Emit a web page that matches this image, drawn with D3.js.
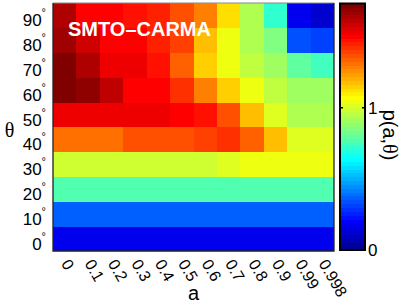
<!DOCTYPE html>
<html>
<head>
<meta charset="utf-8">
<script src="https://cdnjs.cloudflare.com/ajax/libs/d3/7.8.5/d3.min.js"></script>
<style>
body{margin:0;background:#fff;}
text{font-family:"Liberation Sans",Arial,sans-serif;fill:#000;}
</style>
</head>
<body>
<script>
// spin a along x, viewing angle theta along y
var aLabels = ['0','0.1','0.2','0.3','0.4','0.5','0.6','0.7','0.8','0.9','0.99','0.998'];
var thetaLabels = [0,10,20,30,40,50,60,70,80,90];

// one row per theta
var p0  = [0.18,0.18,0.18,0.18,0.18,0.18,0.18,0.18,0.18,0.18,0.18,0.18];
var p10 = [0.36,0.36,0.36,0.36,0.36,0.36,0.36,0.36,0.36,0.36,0.36,0.36];
var p20 = [0.78,0.78,0.78,0.78,0.78,0.78,0.78,0.78,0.78,0.78,0.78,0.78];
var p30 = [0.99,0.99,0.99,0.99,0.99,0.99,1.00,1.01,1.03,1.03,1.03,1.03];
var p40 = [1.31,1.31,1.31,1.37,1.37,1.37,1.40,1.41,1.35,1.19,1.005,1.005];
var p50 = [1.535,1.535,1.535,1.535,1.535,1.51,1.485,1.38,1.18,1.014,0.94,0.94];
var p60 = [1.72,1.70,1.61,1.51,1.497,1.412,1.276,1.157,1.04,0.954,0.91,0.91];
var p70 = [1.73,1.64,1.52,1.52,1.48,1.344,1.157,1.03,0.954,0.92,0.80,0.74];
var p80 = [1.675,1.575,1.51,1.49,1.46,1.395,1.17,1.03,0.945,0.865,0.35,0.318];
var p90 = [1.63,1.50,1.50,1.48,1.446,1.38,1.276,1.124,0.945,0.715,0.173,0.13];
var pRows = [p0,p10,p20,p30,p40,p50,p60,p70,p80,p90];

var cbarTicks = [0,1];
var pMax = 1.732;

var plot = {
  left:53, right:334, top:3, bottom:251
};

// matlab jet(64)
function jetEntry(k){
  var f = function(j){
    if (j<1 || j>47) return 0;
    if (j<=16) return j/16;
    if (j<=31) return 1;
    return (48-j)/16;
  };
  return d3.rgb(255*f(k-24),255*f(k-8),255*f(k+8)).toString();
}

var color = d3.scaleQuantize().domain([0,pMax]).range(d3.range(1,65).map(jetEntry));

var svg = d3.select('body').append('svg').attr('width',407).attr('height',306);

var x = d3.scaleBand().domain(aLabels).range([plot.left,plot.right]);
var y = d3.scaleBand().domain(thetaLabels).range([plot.bottom,plot.top]);

var cells = [];
thetaLabels.forEach(function(t,i){
  aLabels.forEach(function(a,j){
    cells.push({theta:t,a:a,p:pRows[i][j]});
  });
});

svg.append('g').attr('class','cells').selectAll('rect').data(cells)
  .enter().append('rect')
  .attr('x',function(d){return x(d.a)})
  .attr('y',function(d){return y(d.theta)})
  .attr('width',x.bandwidth()+0.3)
  .attr('height',y.bandwidth()+0.3)
  .attr('fill',function(d){return color(d.p)})
  .attr('shape-rendering','crispEdges');

// x axis, labels turned down
var xAxis = svg.append('g').attr('transform','translate(0,'+plot.bottom+')')
  .call(d3.axisBottom(x).tickSize(0));
xAxis.select('.domain').remove();
xAxis.selectAll('text')
  .attr('x',0).attr('y',0).attr('dy',null)
  .attr('text-anchor','start')
  .attr('font-size',16)
  .attr('font-family','"Liberation Sans",Arial,sans-serif')
  .attr('transform','translate(-4,12.5) rotate(60)');

// y axis with degree marks
var yAxis = svg.append('g').attr('transform','translate('+plot.left+',0)')
  .call(d3.axisLeft(y).tickSize(0).tickFormat(''));
yAxis.select('.domain').remove();
yAxis.selectAll('.tick text').each(function(d){
  var t = d3.select(this)
    .attr('x',-7).attr('y',11).attr('dy',null)
    .attr('text-anchor','end')
    .attr('font-size',17)
    .attr('font-family','"Liberation Sans",Arial,sans-serif');
  t.append('tspan').text(d);
  t.append('tspan').text('\u00b0').attr('font-size',11).attr('dy',-10);
});

// axes box
var box = svg.append('g').attr('fill','none');
box.append('line').attr('x1',plot.left).attr('x2',plot.right).attr('y1',plot.top).attr('y2',plot.top)
  .attr('stroke','#8a8a8a').attr('stroke-width',1.2);
box.append('path')
  .attr('d','M'+plot.left+','+plot.top+'V'+plot.bottom+'H'+plot.right+'V'+plot.top)
  .attr('stroke','#222').attr('stroke-width',1.3);

svg.append('text').attr('x',68).attr('y',35.5)
  .attr('font-size',20).attr('font-weight','bold')
  .style('fill','#fff')
  .text('SMTO\u2013CARMA');

svg.append('text').attr('x',(plot.left+plot.right)/2).attr('y',300)
  .attr('text-anchor','middle').attr('font-size',20).text('a');
svg.append('text').attr('x',9.5).attr('y',137)
  .attr('text-anchor','middle').attr('font-size',20)
  .style('font-family','"Liberation Serif","Times New Roman",serif')
  .text('\u03b8');

// colorbar
var cb = {x:340, w:25};
var cy = d3.scaleLinear().domain([0,pMax]).range([250,3.5]);
var step = pMax/64;
var cbar = svg.append('g');
cbar.selectAll('rect').data(d3.range(64)).enter().append('rect')
  .attr('x',cb.x)
  .attr('y',function(i){return cy((i+1)*step)})
  .attr('width',cb.w)
  .attr('height',function(i){return cy(i*step)-cy((i+1)*step)+0.4})
  .attr('fill',function(i){return color((i+0.5)*step)})
  .attr('shape-rendering','crispEdges');
cbar.append('rect').attr('x',cb.x).attr('y',cy(pMax)).attr('width',cb.w)
  .attr('height',cy(0)-cy(pMax))
  .attr('fill','none').attr('stroke','#000').attr('stroke-width',2);
cbar.selectAll('.tk').data(cbarTicks).enter().append('path')
  .attr('class','tk')
  .attr('d',function(d){
    var yy = cy(d);
    return 'M'+cb.x+','+yy+'h3M'+(cb.x+cb.w)+','+yy+'h-3';
  })
  .attr('stroke','#000').attr('stroke-width',1.5);
cbar.selectAll('.lbl').data(cbarTicks).enter().append('text')
  .attr('class','lbl')
  .attr('x',368).attr('y',function(d){return cy(d)})
  .attr('dy','0.36em').attr('font-size',17)
  .text(function(d){return d});

var cl = svg.append('text').attr('transform','translate(383,135) rotate(90)')
  .attr('text-anchor','middle').attr('font-size',20);
cl.append('tspan').text('p(a,');
cl.append('tspan').text('\u03b8').style('font-family','"Liberation Serif","Times New Roman",serif');
cl.append('tspan').text(')');
</script>
</body>
</html>
